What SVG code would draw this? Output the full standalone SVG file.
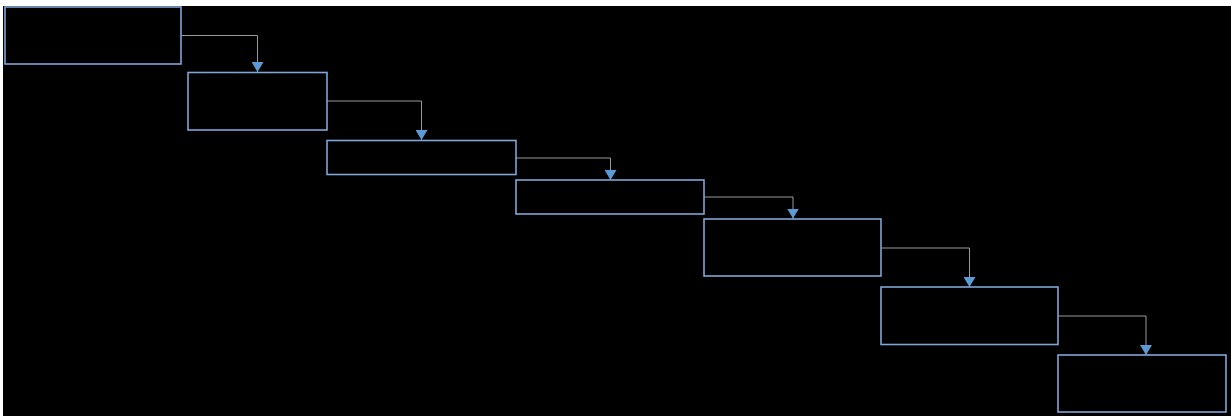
<svg xmlns="http://www.w3.org/2000/svg" width="1231" height="416" viewBox="0 0 1231 416">
<defs>
<style>
.box{fill:#000;stroke:#7fa6d6;stroke-width:1.6}
.conn{fill:none;stroke:#9a9a9a;stroke-width:1}
</style>
<marker id="arr" viewBox="0 0 10 12" refX="10" refY="6" markerWidth="10" markerHeight="12" markerUnits="userSpaceOnUse" orient="auto">
<path d="M0,0 L10,6 L0,12 Z" fill="#5b9bd5"/>
</marker>
</defs>
<rect x="0" y="0" width="1231" height="416" fill="#ffffff"/>
<rect x="3" y="6" width="1228" height="410" fill="#000000"/>
<g id="connectors">
<path class="conn" d="M181,35.5 H257.5 V72" marker-end="url(#arr)"/>
<path class="conn" d="M327,101 H421.5 V140" marker-end="url(#arr)"/>
<path class="conn" d="M516,158 H610.5 V180" marker-end="url(#arr)"/>
<path class="conn" d="M704,197 H793 V218.5" marker-end="url(#arr)"/>
<path class="conn" d="M881,248 H969.5 V287" marker-end="url(#arr)"/>
<path class="conn" d="M1058,316 H1146 V355" marker-end="url(#arr)"/>
</g>
<g id="node1"><rect class="box" x="5" y="7" width="176" height="57"/></g>
<g id="node2"><rect class="box" x="188" y="72.5" width="139" height="57.5"/></g>
<g id="node3"><rect class="box" x="327" y="140.5" width="189" height="34"/></g>
<g id="node4"><rect class="box" x="516" y="180" width="188" height="34"/></g>
<g id="node5"><rect class="box" x="704" y="219" width="177" height="57"/></g>
<g id="node6"><rect class="box" x="881" y="287" width="177" height="57.5"/></g>
<g id="node7"><rect class="box" x="1058" y="355" width="168" height="57"/></g>
</svg>
